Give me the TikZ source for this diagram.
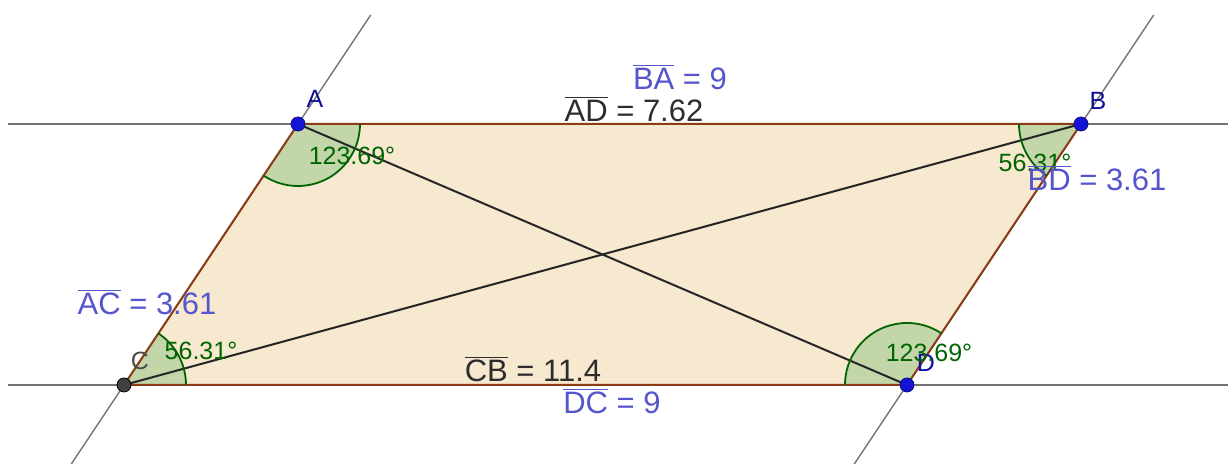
\documentclass[tikz,border=0pt]{standalone}
\usepackage{fontspec}
\setmainfont{Liberation Sans}
\usepackage{xcolor}
\definecolor{fillbeige}{RGB}{247,232,208}
\definecolor{edgebrown}{RGB}{140,60,20}
\definecolor{anglefill}{RGB}{194,214,170}
\definecolor{anglegreen}{RGB}{0,100,0}
\definecolor{labelblue}{RGB}{85,85,205}
\definecolor{ptblue}{RGB}{20,20,215}
\definecolor{textdark}{RGB}{45,45,45}
\usepackage{tikz}
\usetikzlibrary{calc}
\newcommand{\seg}[1]{$\overline{\mbox{#1}}$}

\begin{document}
\begin{tikzpicture}[x=0.5pt, y=0.5pt,
  axisline/.style={draw=black!55, line width=0.7pt},
  side/.style={draw=edgebrown, line width=1pt},
  diag/.style={draw=black!85, line width=1pt},
  angsector/.style={fill=anglefill},
  angarc/.style={draw=anglegreen, line width=0.9pt},
  lenlabel/.style={anchor=base, inner sep=0pt, font=\fontsize{15.5}{18}\selectfont},
  anglabel/.style={anchor=base, inner sep=0pt, text=anglegreen, font=\fontsize{12.5}{15}\selectfont},
  ptlabel/.style={anchor=base, inner sep=0pt, font=\fontsize{12.5}{15}\selectfont}]
  \useasboundingbox (0,0) rectangle (1228,464);
  % Ecken
  \coordinate (A) at (298,340);
  \coordinate (B) at (1081,340);
  \coordinate (C) at (124,79);
  \coordinate (D) at (907,79);
  % Enden der Geraden
  \coordinate (topL) at (8,340);
  \coordinate (topR) at (1228,340);
  \coordinate (botL) at (8,79);
  \coordinate (botR) at (1228,79);
  \coordinate (acLow) at (71.3,0);
  \coordinate (acHigh) at (370.7,449);
  \coordinate (bdLow) at (854.3,0);
  \coordinate (bdHigh) at (1153.7,449);
  % Fläche
  \fill[fillbeige] (A) -- (B) -- (D) -- (C) -- cycle;
  \foreach \v/\a/\b in {A/-123.69/0, B/180/236.31, C/0/56.31, D/56.31/180}
    \fill[angsector] (\v) -- ++(\a:31pt) arc[start angle=\a, end angle=\b, radius=31pt] -- cycle;
  % Geraden
  \draw[axisline] (topL) -- (topR);
  \draw[axisline] (botL) -- (botR);
  \draw[axisline] (acLow) -- (acHigh);
  \draw[axisline] (bdLow) -- (bdHigh);
  % Seiten und Diagonalen
  \draw[side] (A) -- (B) -- (D) -- (C) -- cycle;
  \draw[diag] (A) -- (D);
  \draw[diag] (C) -- (B);
  \foreach \v/\a/\b in {A/-123.69/0, B/180/236.31, C/0/56.31, D/56.31/180}
    \draw[angarc] ($(\v)+(\a:31pt)$) arc[start angle=\a, end angle=\b, radius=31pt];
  % Punkte
  \filldraw[fill=ptblue, draw=ptblue!60!black, line width=0.4pt] (A) circle (3.5pt);
  \filldraw[fill=ptblue, draw=ptblue!60!black, line width=0.4pt] (B) circle (3.5pt);
  \filldraw[fill=ptblue, draw=ptblue!60!black, line width=0.4pt] (D) circle (3.5pt);
  \filldraw[fill=black!75, draw=black, line width=0.4pt] (C) circle (3.5pt);
  \node[ptlabel, text=ptblue!70!black] (labA) at (315,356) {A};
  \node[ptlabel, text=ptblue!70!black] (labB) at (1098,354) {B};
  \node[ptlabel, text=black!70] (labC) at (140,94) {C};
  \node[ptlabel, text=ptblue!80!black] (labD) at (926,92) {D};
  % Winkel
  \node[anglabel] (angA) at (352,299) {123.69°};
  \node[anglabel] (angB) at (1035,292) {56.31°};
  \node[anglabel] (angC) at (201,104) {56.31°};
  \node[anglabel] (angD) at (929,102) {123.69°};
  % Längen
  \node[lenlabel, text=labelblue] (lenBA) at (680,374) {\seg{BA} = 9};
  \node[lenlabel, text=textdark] (lenAD) at (634,342) {\seg{AD} = 7.62};
  \node[lenlabel, text=labelblue] (lenBD) at (1097,273) {\seg{BD} = 3.61};
  \node[lenlabel, text=labelblue] (lenAC) at (147,149) {\seg{AC} = 3.61};
  \node[lenlabel, text=textdark] (lenCB) at (533,82) {\seg{CB} = 11.4};
  \node[lenlabel, text=labelblue] (lenDC) at (612,50) {\seg{DC} = 9};
\end{tikzpicture}
\end{document}
